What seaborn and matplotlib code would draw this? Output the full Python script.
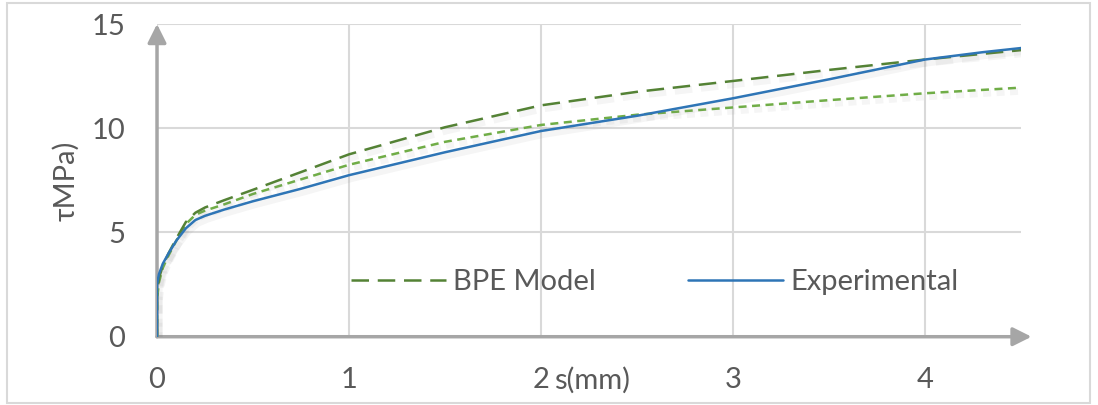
import numpy as np
import pandas as pd
import matplotlib
matplotlib.use("Agg")
import matplotlib.pyplot as plt
import matplotlib.patheffects as pe
from matplotlib.patches import Rectangle
from matplotlib.lines import Line2D
import seaborn as sns

# ---- data ----
exp_x = [0, 0.0, 0.01, 0.03, 0.06, 0.1, 0.15, 0.2, 0.25, 0.35, 0.5, 0.75, 1.0, 1.5, 2.0, 2.5, 3.0, 3.5, 4.0, 4.3, 4.5]
exp_y = [0, 2.5, 3.0, 3.5, 4.0, 4.6, 5.2, 5.6, 5.8, 6.1, 6.5, 7.1, 7.75, 8.85, 9.87, 10.6, 11.44, 12.35, 13.3, 13.65, 13.85]

bpe_x = [0, 0.0, 0.01, 0.03, 0.06, 0.1, 0.15, 0.2, 0.25, 0.35, 0.5, 0.75, 1.0, 1.5, 2.0, 2.5, 3.0, 3.5, 4.0, 4.5]
bpe_y = [0, 2.0, 2.8, 3.4, 4.0, 4.7, 5.5, 5.95, 6.2, 6.55, 7.05, 7.9, 8.75, 10.05, 11.1, 11.75, 12.27, 12.8, 13.3, 13.75]

alt_x = [0, 0.0, 0.01, 0.03, 0.06, 0.1, 0.15, 0.2, 0.25, 0.35, 0.5, 0.75, 1.0, 1.5, 2.0, 2.5, 3.0, 3.5, 4.0, 4.5]
alt_y = [0, 1.8, 2.6, 3.3, 3.9, 4.6, 5.4, 5.85, 6.05, 6.35, 6.85, 7.55, 8.25, 9.35, 10.16, 10.65, 11.0, 11.35, 11.68, 11.95]

x_ticks = [0, 1, 2, 3, 4]
y_ticks = [0, 5, 10, 15]
x_label = "s(mm)"
y_label = "τMPa)"
legend_labels = ["BPE Model", "Experimental"]

# ---- style ----
sns.set_theme(style="white")
plt.rcParams["font.family"] = ["Lato", "DejaVu Sans"]

C_DG = "#548235"
C_LG = "#70AD47"
C_BL = "#2E75B6"
TXT = "#595959"
GRID = "#d9d9d9"
AXC = "#a6a6a6"
FS = 21

fig = plt.figure(figsize=(10.98, 4.05), dpi=100)
ax = fig.add_axes([0.143, 0.1686, 0.787, 0.772])

shadow = [pe.SimpleLineShadow(offset=(1.5, -2.5), shadow_color="gray", alpha=0.08, linewidth=5), pe.Normal()]

sns.lineplot(x=alt_x, y=alt_y, ax=ax, color=C_LG, lw=1.8, sort=False, estimator=None, label=None)
sns.lineplot(x=bpe_x, y=bpe_y, ax=ax, color=C_DG, lw=1.8, sort=False, estimator=None, label=None)
sns.lineplot(x=exp_x, y=exp_y, ax=ax, color=C_BL, lw=1.8, sort=False, estimator=None, label=None)

lines = ax.get_lines()
lines[0].set_dashes((3.2, 2.2))
lines[1].set_dashes((7.0, 3.5))
for ln in lines:
    ln.set_path_effects(shadow)
    ln.set_zorder(3)

ax.set_xlim(0, 4.5)
ax.set_ylim(0, 15)
ax.set_xticks(x_ticks)
ax.set_yticks(y_ticks)
ax.set_xticklabels([str(t) for t in x_ticks])
ax.set_yticklabels([str(t) for t in y_ticks])
ax.tick_params(axis="x", length=0, pad=22, labelsize=FS, labelcolor=TXT)
ax.tick_params(axis="y", length=0, pad=23, labelsize=FS, labelcolor=TXT)

ax.grid(True, color=GRID, lw=1.5)
ax.set_axisbelow(True)
for s in ax.spines.values():
    s.set_visible(False)

# axis arrows
ax.annotate("", xy=(1.012, 0), xytext=(0, 0), xycoords="axes fraction",
            arrowprops=dict(arrowstyle="-|>", color=AXC, lw=2.5, mutation_scale=28,
                            shrinkA=0, shrinkB=0), annotation_clip=False, zorder=2)
ax.annotate("", xy=(0, 1.0), xytext=(0, 0), xycoords="axes fraction",
            arrowprops=dict(arrowstyle="-|>", color=AXC, lw=2.5, mutation_scale=28,
                            shrinkA=0, shrinkB=0), annotation_clip=False, zorder=2)

ax.set_xlabel(x_label, fontsize=FS, color=TXT)
ax.xaxis.set_label_coords(2.065 / 4.5, -0.14)
ax.xaxis.label.set_ha("left")
ax.xaxis.label.set_va("center")
ax.set_ylabel(y_label, fontsize=FS, color=TXT)
ax.yaxis.set_label_coords(-0.09, 0.5)

handles = [Line2D([], [], color=C_DG, lw=1.8, dashes=(7.0, 3.5)),
           Line2D([], [], color=C_BL, lw=1.8)]
ax.legend(handles, legend_labels, loc="center", bbox_to_anchor=(0.576, 0.175),
          ncol=2, frameon=False, fontsize=FS, labelcolor=TXT, handlelength=3.25,
          handletextpad=0.27, columnspacing=3.15)

fig.patches.append(Rectangle((7 / 1098, 2 / 405), 1083 / 1098, 400 / 405,
                             transform=fig.transFigure, fill=False, ec=GRID, lw=1.5))

fig.savefig("out.png", dpi=100, facecolor="white")
